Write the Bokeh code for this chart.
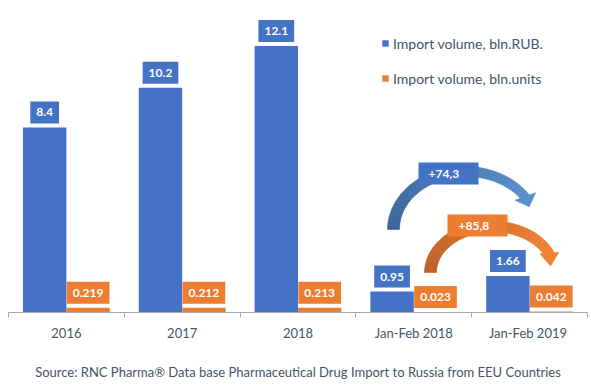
import numpy as np
from bokeh.plotting import figure
from bokeh.models import ColumnDataSource, FixedTicker, Legend, LegendItem
from bokeh.transform import dodge
from bokeh.core.properties import value
from bokeh.embed import file_html
from bokeh.resources import INLINE

# ---------------- data ----------------
categories = ["2016", "2017", "2018", "Jan-Feb 2018", "Jan-Feb  2019"]
rub_values = [8.4, 10.2, 12.1, 0.95, 1.66]
unit_values = [0.219, 0.212, 0.213, 0.023, 0.042]
rub_labels = ["8.4", "10.2", "12.1", "0.95", "1.66"]
unit_labels = ["0.219", "0.212", "0.213", "0.023", "0.042"]
growth_labels = ["+74,3", "+85,8"]
series_names = ["Import volume, bln.RUB.", "Import volume, bln.units"]
source_note = "Source: RNC Pharma\u00ae Data base Pharmaceutical Drug Import to Russia from EEU Countries"

# ---------------- style ----------------
BLUE = "#4472C4"
ORANGE = "#ED7D31"
TEXT = "#44546A"
AXIS = "#A6A6A6"
FONT = "Lato"

W, H = 590, 388
FL, FR, FT, FB = 8, 3, 8, 76
Y_MAX = 13.8
n = len(categories)
fw = W - FL - FR
fh = H - FT - FB
PAGE = 0

def dx(px):
    return (px - PAGE - FL) / fw * n

def dy(py):
    return (PAGE + FT + fh - py) / fh * Y_MAX

p = figure(width=W, height=H, x_range=(0, n), y_range=(0, Y_MAX),
           output_backend="svg", toolbar_location=None, y_axis_location=None,
           min_border_left=FL, min_border_right=FR, min_border_top=FT,
           min_border_bottom=FB)
p.outline_line_color = None
p.xgrid.grid_line_color = None
p.ygrid.grid_line_color = None
p.background_fill_color = "white"

src = ColumnDataSource(dict(
    x=[i + 0.5 for i in range(n)],
    rub=rub_values, units=unit_values,
    rub_lbl=rub_labels, unit_lbl=unit_labels,
))

BW = 0.375
OFF = BW / 2
r_rub = p.vbar(x=dodge("x", -OFF), top="rub", width=BW, source=src,
               fill_color=BLUE, line_color=None)
r_units = p.vbar(x=dodge("x", OFF), top="units", width=BW, source=src,
                 fill_color=ORANGE, line_color=None)

lbl_kw = dict(text_align="center", text_baseline="bottom", y_offset=-4,
              text_color="white", text_font=value(FONT), text_font_style="bold",
              text_font_size="12px", padding=(6, 7))
p.text(x=dodge("x", -OFF), y="rub", text="rub_lbl", source=src,
       background_fill_color=BLUE, **lbl_kw)
p.text(x=dodge("x", OFF), y="units", text="unit_lbl", source=src,
       background_fill_color=ORANGE, **lbl_kw)

# ---------------- curved arrows ----------------
def hex2rgb(h):
    h = h.lstrip("#")
    return np.array([int(h[i:i + 2], 16) for i in (0, 2, 4)], dtype=float)

def rgb2hex(c):
    return "#%02x%02x%02x" % tuple(int(round(v)) for v in c)

def curved_arrow(cx, cy, a, b, t0, t1, w0, w1, c0, c1, hdeg, hlen, hhw, nseg=40):
    ts = np.radians(np.linspace(t0, t1, nseg + 1))
    px = cx + a * np.cos(ts)
    py = cy - b * np.sin(ts)
    tx = a * np.sin(ts)
    ty = b * np.cos(ts)
    nn = np.hypot(tx, ty)
    tx, ty = tx / nn, ty / nn
    nx, ny = -ty, tx
    w = np.linspace(w0, w1, nseg + 1) / 2
    lx, ly = px + nx * w, py + ny * w
    rx, ry = px - nx * w, py - ny * w
    ca, cb = hex2rgb(c0), hex2rgb(c1)
    xs, ys, cols = [], [], []
    for i in range(nseg):
        xs.append([dx(v) for v in (lx[i], lx[i + 1], rx[i + 1], rx[i])])
        ys.append([dy(v) for v in (ly[i], ly[i + 1], ry[i + 1], ry[i])])
        cols.append(rgb2hex(ca + (cb - ca) * (i + 0.5) / nseg))
    p.patches(xs, ys, fill_color=cols, line_color=cols, line_width=0.6)
    d = np.array([np.cos(np.radians(hdeg)), np.sin(np.radians(hdeg))])
    nv = np.array([-d[1], d[0]])
    base = np.array([px[-1], py[-1]]) - d * 1.5
    p1 = base + nv * hhw
    p2 = base - nv * hhw
    tip = base + d * hlen
    p.patch([dx(v) for v in (p1[0], tip[0], p2[0])],
            [dy(v) for v in (p1[1], tip[1], p2[1])],
            fill_color=c1, line_color=c1, line_width=0.6)

curved_arrow(465, 229, 72, 58, 180, 33, 12, 9, "#3a6399", "#5b8fcc", 70, 11, 11)
curved_arrow(492, 272, 62, 46, 180, 23, 12, 10, "#bd5f24", "#f08234", 85, 13, 9.5)

def growth_box(l, r, t, b, txt, color, tx_pad):
    p.quad(left=dx(l), right=dx(r), top=dy(t), bottom=dy(b),
           fill_color=color, line_color=None)
    p.text(x=[dx(l)], y=[dy((t + b) / 2)], text=[txt], x_offset=tx_pad,
           text_align="left", text_baseline="middle", text_color="white",
           text_font=value(FONT), text_font_style="bold", text_font_size="12px")

growth_box(418, 478, 162, 184, growth_labels[0], BLUE, 10)
growth_box(447, 507, 214, 236, growth_labels[1], ORANGE, 11)

# ---------------- axis ----------------
ax = p.xaxis[0]
ax.ticker = FixedTicker(ticks=[i + 0.5 for i in range(n)],
                        minor_ticks=list(range(n + 1)))
ax.major_label_overrides = {i + 0.5: c for i, c in enumerate(categories)}
ax.major_tick_line_color = None
ax.major_tick_in = 0
ax.major_tick_out = 0
ax.minor_tick_in = 0
ax.minor_tick_out = 5
ax.minor_tick_line_color = AXIS
ax.axis_line_color = AXIS
ax.major_label_text_font = FONT
ax.major_label_text_font_size = "13px"
ax.major_label_text_color = TEXT
ax.major_label_standoff = 7
ax.axis_label = source_note
ax.axis_label_text_font = FONT
ax.axis_label_text_font_size = "13px"
ax.axis_label_text_font_style = "normal"
ax.axis_label_text_color = TEXT
ax.axis_label_standoff = 20

# ---------------- legend ----------------
legend = Legend(items=[LegendItem(label=series_names[0], renderers=[r_rub]),
                       LegendItem(label=series_names[1], renderers=[r_units])],
                location=(373, 225), orientation="vertical",
                glyph_width=8, glyph_height=8, label_height=18, spacing=17,
                padding=0, margin=0, border_line_color=None,
                background_fill_alpha=0, label_standoff=4,
                label_text_font=FONT, label_text_font_size="14px",
                label_text_color=TEXT)
p.add_layout(legend)

open("out.html", "w").write(file_html(p, INLINE))
